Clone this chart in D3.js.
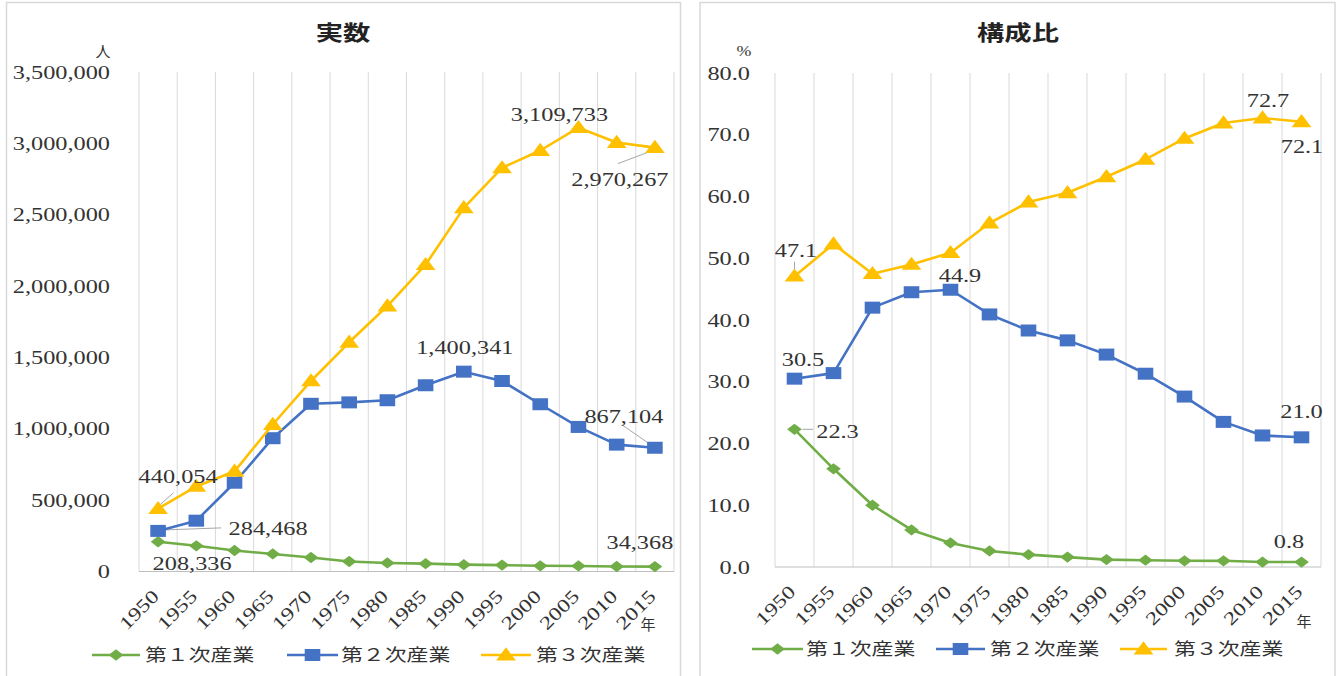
<!DOCTYPE html>
<html><head><meta charset="utf-8">
<script src="https://cdn.jsdelivr.net/npm/d3@7"></script>
<style>
html,body{margin:0;padding:0;background:#fff;}
svg{display:block;}
</style></head>
<body>
<svg id="c" width="1344" height="676"></svg>
<script>
// ---------- data ----------
const years = ["1950","1955","1960","1965","1970","1975","1980","1985","1990","1995","2000","2005","2010","2015"];
const seriesNames = ["第１次産業","第２次産業","第３次産業"];
const seriesColors = ["#70AD47","#4472C4","#FFC000"];
// 実数 (人)
const primaryCount   = [208336,180000,147000,123000,98000,70000,60000,55000,48000,45000,40000,39000,35000,34368];
const secondaryCount = [284468,356000,622000,934000,1175000,1185000,1200000,1305000,1400341,1335000,1172000,1013000,889000,867104];
const tertiaryCount  = [440054,596000,702000,1030000,1335000,1606000,1860000,2150000,2548000,2828000,2950000,3109733,3006000,2970267];
// 構成比 (%)
const primaryShare   = [22.3,15.9,10.0,6.0,3.9,2.6,2.0,1.6,1.2,1.1,1.0,1.0,0.8,0.8];
const secondaryShare = [30.5,31.4,42.0,44.5,44.9,40.9,38.3,36.7,34.4,31.3,27.6,23.5,21.3,21.0];
const tertiaryShare  = [47.1,52.3,47.5,49.0,50.9,55.7,59.1,60.6,63.2,66.0,69.4,71.9,72.7,72.1];
const countTicks = [0,500000,1000000,1500000,2000000,2500000,3000000,3500000];
const shareTicks = [0,10,20,30,40,50,60,70,80];

// ---------- drawing ----------
const svg = d3.select("#c");
const SERIF = "Liberation Serif";
const GOTHIC = "Noto Sans CJK JP";
const TXT = "#333333";
const SX = 1.28; // horizontal stretch of the reference glyphs

function stext(g, x, y, anchor, size, txt, rot){
  return g.append("text")
    .attr("transform",`translate(${x},${y})${rot?` rotate(${rot})`:""} scale(${SX},1)`)
    .attr("text-anchor",anchor).attr("font-family",SERIF).attr("font-size",size)
    .attr("fill",TXT).text(txt);
}

// panel frames
svg.append("rect").attr("x",6.5).attr("y",2.5).attr("width",674).attr("height",690)
  .attr("fill","none").attr("stroke","#D9D9D9").attr("stroke-width",1.5);
svg.append("rect").attr("x",700).attr("y",2.5).attr("width",635).attr("height",690)
  .attr("fill","none").attr("stroke","#D9D9D9").attr("stroke-width",1.5);

function drawChart(cfg){
  const g = svg.append("g");
  const x = d3.scaleBand().domain(years).range(cfg.xRange);
  const y = d3.scaleLinear().domain(cfg.yDomain).range(cfg.yRange);
  const cx = d => x(d) + x.bandwidth()/2;
  const [top, bottom] = [cfg.yRange[1], cfg.yRange[0]];

  const bounds = years.map(d => x(d)).concat([cfg.xRange[1]]);
  g.selectAll(".grid").data(bounds).enter().append("line")
    .attr("x1",d=>d).attr("x2",d=>d).attr("y1",top).attr("y2",bottom)
    .attr("stroke","#D9D9D9").attr("stroke-width",1);
  g.append("line").attr("x1",cfg.xRange[0]).attr("x2",cfg.xRange[1])
    .attr("y1",bottom).attr("y2",bottom).attr("stroke","#BFBFBF").attr("stroke-width",1.2);

  cfg.ticks.forEach(t => stext(g, cfg.tickRight, y(t)+6.5, "end", 19, cfg.tickFormat(t)));

  years.forEach(d => stext(g, cx(d)+2, bottom+26, "end", 18.5, d, -45));

  if(cfg.unitFont===SERIF){
    stext(g, cfg.unitX, cfg.unitY, "middle", 14, cfg.unit);
  } else {
    g.append("text").attr("x",cfg.unitX).attr("y",cfg.unitY).attr("text-anchor","middle")
      .attr("font-family",cfg.unitFont).attr("font-size",15).attr("fill",TXT).text(cfg.unit);
  }
  g.append("text").attr("x",cfg.yearX).attr("y",cfg.yearY).attr("text-anchor","middle")
    .attr("dy","0.36em").attr("font-family",GOTHIC).attr("font-size",15).attr("fill",TXT).text("年");

  g.append("text").attr("transform",`translate(${cfg.titleX},32) scale(1.3,1)`)
    .attr("text-anchor","middle").attr("dy","0.36em").attr("font-family",GOTHIC)
    .attr("font-weight","bold").attr("font-size",21).attr("fill","#222").text(cfg.title);

  cfg.labels.forEach(l => {
    if(!l.leader) return;
    const px = cx(years[l.i]), py = y(cfg.series[l.s][l.i]);
    g.append("line").attr("x1",px+l.leader[0]).attr("y1",py+l.leader[1])
      .attr("x2",px+l.leader[2]).attr("y2",py+l.leader[3])
      .attr("stroke","#A6A6A6").attr("stroke-width",1);
  });

  const line = d3.line().x((d,i)=>cx(years[i])).y(d=>y(d));
  cfg.series.forEach((vals, s) => {
    g.append("path").datum(vals).attr("d",line).attr("fill","none")
      .attr("stroke",seriesColors[s]).attr("stroke-width",2.6).attr("stroke-linejoin","round");
    g.selectAll(".m"+s).data(vals).enter().append("path")
      .attr("d",markerPath(s))
      .attr("transform",(d,i)=>markerTransform(s, cx(years[i]), y(d)))
      .attr("fill",seriesColors[s]);
  });

  cfg.labels.forEach(l => {
    const v = cfg.series[l.s][l.i];
    stext(g, cx(years[l.i])+l.dx, y(v)+l.dy+6.5, "middle", 19, cfg.labelFormat(v));
  });

  cfg.legend.forEach((lg, s) => {
    g.append("line").attr("x1",lg[0]).attr("x2",lg[1]).attr("y1",cfg.legendY).attr("y2",cfg.legendY)
      .attr("stroke",seriesColors[s]).attr("stroke-width",2.6);
    g.append("path").attr("d",markerPath(s))
      .attr("transform",markerTransform(s,(lg[0]+lg[1])/2,cfg.legendY))
      .attr("fill",seriesColors[s]);
    g.append("text").attr("transform",`translate(${lg[2]},${cfg.legendY}) scale(1.25,1)`)
      .attr("dy","0.36em").attr("font-family",GOTHIC).attr("font-size",17.5)
      .attr("fill",TXT).text(seriesNames[s]);
  });
}

function markerPath(s){
  if(s===0) return d3.symbol().type(d3.symbolSquare).size(64)();
  if(s===1) return d3.symbol().type(d3.symbolSquare).size(144)();
  return d3.symbol().type(d3.symbolTriangle).size(100)();
}
function markerTransform(s, px, py){
  if(s===0) return `translate(${px},${py}) scale(1.3,1) rotate(45)`;
  if(s===2) return `translate(${px},${py+1}) scale(1.3,1)`;
  return `translate(${px},${py}) scale(1.3,1)`;
}

drawChart({
  title:"実数", titleX:343,
  xRange:[139,674], yDomain:[0,3500000], yRange:[571.5,72],
  ticks:countTicks, tickRight:110, tickFormat:d3.format(","),
  unit:"人", unitX:103, unitY:57, unitFont:GOTHIC,
  yearX:648, yearY:625,
  series:[primaryCount, secondaryCount, tertiaryCount],
  labelFormat:d3.format(","),
  labels:[
    {s:2,i:11,dx:-19,dy:-13},
    {s:2,i:13,dx:-35,dy:32,leader:[-4.5,3.8,-37,16]},
    {s:1,i:8,dx:1,dy:-24},
    {s:1,i:13,dx:-31,dy:-31,leader:[-7,-5,-33,-23]},
    {s:2,i:0,dx:20,dy:-32,leader:[2,-4,15.5,-16]},
    {s:1,i:0,dx:110,dy:-2,leader:[7,-1,63,-3]},
    {s:0,i:0,dx:34,dy:21.5},
    {s:0,i:13,dx:-15,dy:-24}
  ],
  legendY:655,
  legend:[[92,140,145],[287,338,341],[481,531,536]]
});

drawChart({
  title:"構成比", titleX:1018,
  xRange:[775,1321], yDomain:[0,80], yRange:[567,73],
  ticks:shareTicks, tickRight:750, tickFormat:d3.format(".1f"),
  unit:"%", unitX:744, unitY:56, unitFont:SERIF,
  yearX:1304, yearY:622,
  series:[primaryShare, secondaryShare, tertiaryShare],
  labelFormat:d3.format(".1f"),
  labels:[
    {s:2,i:12,dx:5.5,dy:-18},
    {s:2,i:13,dx:0.5,dy:25},
    {s:2,i:0,dx:1.5,dy:-26,leader:[0,-14.5,0,-4]},
    {s:1,i:4,dx:9.5,dy:-14},
    {s:1,i:0,dx:8.5,dy:-19},
    {s:0,i:0,dx:43,dy:2,leader:[8,0,18.5,0]},
    {s:1,i:13,dx:0,dy:-25.6},
    {s:0,i:13,dx:-12.5,dy:-21}
  ],
  legendY:649,
  legend:[[752,803,806],[936,985,990],[1120,1167,1174]]
});
</script>
</body></html>
